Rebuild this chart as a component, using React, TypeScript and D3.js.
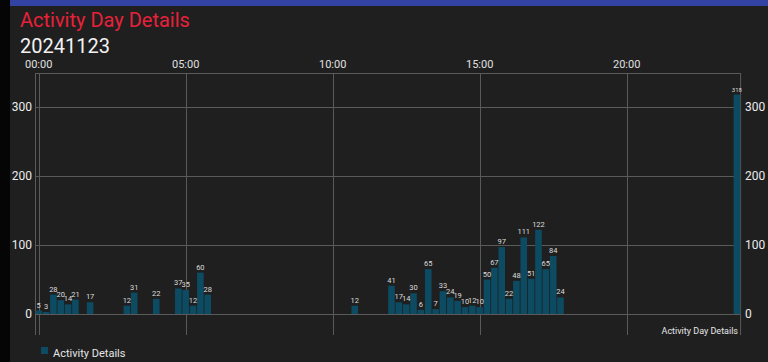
import * as d3 from 'd3';
import { useRef, useEffect } from 'react';

// 15-minute slots with activity (others are empty)
const times = [
  '00:00', '00:15', '00:30', '00:45', '01:00', '01:15', '01:45',
  '03:00', '03:15', '04:00', '04:45', '05:00', '05:15', '05:30', '05:45',
  '10:45', '12:00', '12:15', '12:30', '12:45', '13:00', '13:15', '13:30',
  '13:45', '14:00', '14:15', '14:30', '14:45', '15:00', '15:15', '15:30',
  '15:45', '16:00', '16:15', '16:30', '16:45', '17:00', '17:15', '17:30',
  '17:45', '23:45',
];
const values = [
  5, 3, 28, 20, 14, 21, 17,
  12, 31, 22, 37, 35, 12, 60, 28,
  12, 41, 17, 14, 30, 6, 65, 7,
  33, 24, 19, 10, 12, 10, 50, 67,
  97, 22, 48, 111, 51, 122, 65, 84,
  24, 318,
];
const xTickLabels = ['00:00', '05:00', '10:00', '15:00', '20:00'];
const yTicks = [0, 100, 200, 300];

const W = 768;
const H = 362;
const FONT = 'Roboto, "Noto Sans", sans-serif';

const toSlot = (t: string) => {
  const [h, m] = t.split(':').map(Number);
  return h * 4 + m / 15;
};

const App = () => {
  const svgRef = useRef<SVGSVGElement | null>(null);

  useEffect(() => {
    const svg = d3.select(svgRef.current);
    svg.selectAll('*').remove();

    const left = 35;
    const right = 740.6;
    const top = 73;
    const bottom = 335;

    const x = d3.scaleLinear().domain([-0.5, 95.5]).range([left, right]);
    const y = d3.scaleLinear().domain([0, 300]).range([314, 107]);

    // background + phone chrome
    svg.append('rect').attr('width', W).attr('height', H).attr('fill', '#1f1f1f');
    svg.append('rect').attr('width', 10).attr('height', H).attr('fill', '#050505');
    svg.append('rect').attr('x', 10).attr('width', W - 10).attr('height', 6).attr('fill', '#3343a3');

    // titles
    svg.append('text')
      .attr('x', 20).attr('y', 27)
      .attr('font-family', FONT).attr('font-size', 20)
      .attr('fill', '#e8213a')
      .text('Activity Day Details');
    svg.append('text')
      .attr('x', 20).attr('y', 53)
      .attr('font-family', FONT).attr('font-size', 20)
      .attr('fill', '#f2f2f2')
      .text('20241123');

    // grid
    const grid = svg.append('g').attr('stroke', '#5a5a5a').attr('stroke-width', 1);
    yTicks.forEach((v) => {
      grid.append('line')
        .attr('x1', left).attr('x2', right)
        .attr('y1', Math.round(y(v)) + 0.5).attr('y2', Math.round(y(v)) + 0.5);
    });
    xTickLabels.forEach((t) => {
      const px = Math.round(x(toSlot(t))) + 0.5;
      grid.append('line').attr('x1', px).attr('x2', px).attr('y1', top).attr('y2', bottom);
    });
    // borders
    grid.append('line').attr('x1', left + 0.5).attr('x2', left + 0.5).attr('y1', top).attr('y2', bottom);
    grid.append('line').attr('x1', right).attr('x2', right).attr('y1', top).attr('y2', bottom);
    grid.append('line').attr('x1', left).attr('x2', right).attr('y1', top + 0.5).attr('y2', top + 0.5);

    // x tick labels on top
    svg.append('g').selectAll('text')
      .data(xTickLabels)
      .enter()
      .append('text')
      .attr('x', (t) => x(toSlot(t)))
      .attr('y', 68)
      .attr('text-anchor', 'middle')
      .attr('font-family', FONT).attr('font-size', 11)
      .attr('fill', '#e0e0e0')
      .text((t) => t);

    // y labels, both sides
    const yl = svg.append('g').attr('font-family', FONT).attr('font-size', 12).attr('fill', '#ececec');
    yTicks.forEach((v) => {
      yl.append('text').attr('x', 32).attr('y', y(v) + 4).attr('text-anchor', 'end').text(v);
      yl.append('text').attr('x', 745).attr('y', y(v) + 4).attr('text-anchor', 'start').text(v);
    });

    // bars
    const bw = 6.6;
    const data = times.map((t, i) => ({ slot: toSlot(t), v: values[i] }));
    svg.append('g').selectAll('rect')
      .data(data)
      .enter()
      .append('rect')
      .attr('x', (d) => x(d.slot) - bw / 2)
      .attr('y', (d) => y(d.v))
      .attr('width', bw)
      .attr('height', (d) => y(0) - y(d.v))
      .attr('fill', '#0c4b62');

    svg.append('g').selectAll('text')
      .data(data)
      .enter()
      .append('text')
      .attr('x', (d) => x(d.slot))
      .attr('y', (d) => y(d.v) - 3)
      .attr('text-anchor', 'middle')
      .attr('font-family', FONT)
      .attr('font-size', (d) => (d.slot > 90 ? 6 : 7.5))
      .attr('fill', '#dcdcdc')
      .text((d) => d.v);

    // description
    svg.append('text')
      .attr('x', 738).attr('y', 334)
      .attr('text-anchor', 'end')
      .attr('font-family', FONT).attr('font-size', 9)
      .attr('fill', '#e6e6e6')
      .text('Activity Day Details');

    // legend
    svg.append('rect').attr('x', 41).attr('y', 347).attr('width', 7).attr('height', 7).attr('fill', '#0c4b62');
    svg.append('text')
      .attr('x', 53).attr('y', 357)
      .attr('font-family', FONT).attr('font-size', 11)
      .attr('fill', '#e6e6e6')
      .text('Activity Details');
  }, []);

  return (
    <div style={{ position: 'fixed', left: 0, top: 0, width: W, height: H }}>
      <svg ref={svgRef} width={W} height={H} style={{ display: 'block' }} />
    </div>
  );
};

export default App;
